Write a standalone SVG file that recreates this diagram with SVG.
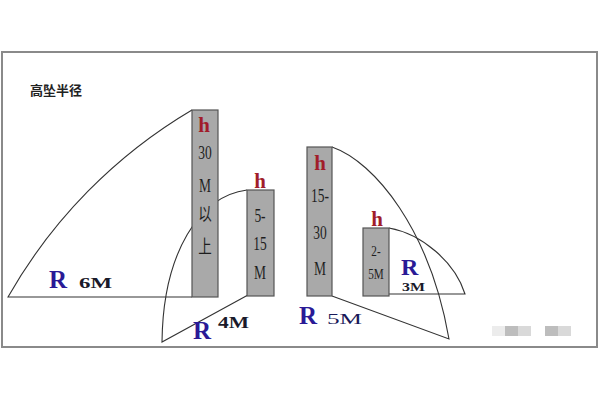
<svg xmlns="http://www.w3.org/2000/svg" width="600" height="400" viewBox="0 0 600 400">
<style>
.frame{fill:#fff;stroke:#8a8a8a;stroke-width:2}
.tower{fill:#a9a9a9;stroke:#555;stroke-width:1.2}
.sec{fill:none;stroke:#333;stroke-width:1.1}
.h{font-family:"Liberation Serif",serif;font-weight:bold;font-size:21px;fill:#a11d2a;text-anchor:middle}
.t{font-family:"Liberation Serif","Noto Sans CJK SC",serif;font-size:18px;fill:#1e1e1e;text-anchor:middle}
.t2{font-family:"Liberation Serif",serif;font-size:14px;fill:#1e1e1e;text-anchor:middle}
.R{font-family:"Liberation Serif",serif;font-weight:bold;font-size:25px;fill:#2a1a96}
.m{font-family:"Liberation Serif",serif;font-weight:bold;font-size:14px;fill:#1a1a2a}
.title{font-family:"Noto Sans CJK SC",sans-serif;font-weight:bold;font-size:13px;fill:#222}
</style>
<rect class="frame" x="2" y="52" width="595" height="295"/>
<text class="title" x="30" y="95">高坠半径</text>
<g id="connectors">
<path class="sec" d="M192,110 A510,510 0 0 0 8,297 L192,297"/>
<path class="sec" d="M247,190 C200,196 163,252 162,342 L248,295"/>
<path class="sec" d="M332,147 C375,162 430,230 449,339 L332,296"/>
<path class="sec" d="M389,228 C422,234 455,262 465,294 L389,294"/>
</g>
<g id="tower1">
<rect class="tower" x="192" y="110" width="26" height="187"/>
<text class="h" x="204" y="132">h</text>
<g transform="translate(205,0) scale(0.75,1)">
<text class="t" x="0" y="159">30</text>
<text class="t" x="0" y="192">M</text>
<text class="t" x="0" y="221">以</text>
<text class="t" x="0" y="253">上</text>
</g>
</g>
<g id="tower2">
<rect class="tower" x="247" y="190" width="27" height="106"/>
<text class="h" x="260" y="188">h</text>
<g transform="translate(260,0) scale(0.75,1)">
<text class="t" x="0" y="222">5-</text>
<text class="t" x="0" y="250">15</text>
<text class="t" x="0" y="279">M</text>
</g>
</g>
<g id="tower3">
<rect class="tower" x="307" y="147" width="25" height="149"/>
<text class="h" x="320" y="170">h</text>
<g transform="translate(320,0) scale(0.75,1)">
<text class="t" x="0" y="202">15-</text>
<text class="t" x="0" y="239">30</text>
<text class="t" x="0" y="275">M</text>
</g>
</g>
<g id="tower4">
<rect class="tower" x="363" y="228" width="26" height="68"/>
<text class="h" x="377" y="226">h</text>
<g transform="translate(376,0) scale(0.8,1)">
<text class="t2" x="0" y="256">2-</text>
<text class="t2" x="0" y="279">5M</text>
</g>
</g>
<g id="labels">
<text class="R" x="49" y="288">R</text>
<text class="m" x="79" y="288" textLength="33" lengthAdjust="spacingAndGlyphs">6M</text>
<text class="R" x="193" y="339">R</text>
<text class="m" x="218" y="328" style="font-size:16px" textLength="31" lengthAdjust="spacingAndGlyphs">4M</text>
<text class="R" x="299" y="324">R</text>
<text class="m" x="327" y="324" style="font-size:14px;font-weight:normal;fill:#1a1a5a" textLength="35" lengthAdjust="spacingAndGlyphs">5M</text>
<text class="R" x="401" y="275" style="font-size:24px">R</text>
<text class="m" x="402" y="291" style="font-size:13px" textLength="23" lengthAdjust="spacingAndGlyphs">3M</text>
</g>
<g id="watermark" opacity="0.55">
<rect x="492" y="326" width="13" height="10" fill="#ddd"/>
<rect x="505" y="326" width="13" height="10" fill="#888"/>
<rect x="518" y="326" width="13" height="10" fill="#bbb"/>
<rect x="545" y="326" width="13" height="10" fill="#888"/>
<rect x="558" y="326" width="13" height="10" fill="#bbb"/>
</g>
</svg>
